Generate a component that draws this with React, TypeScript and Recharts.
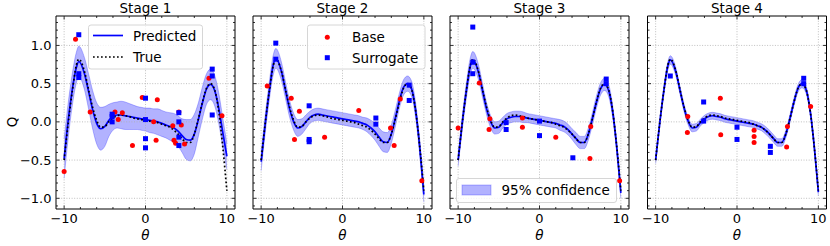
import React from "react";
import {
  ComposedChart,
  Line,
  Area,
  Scatter,
  XAxis,
  YAxis,
  ReferenceLine,
  ReferenceArea,
} from "recharts";

// ---------- data ----------
const X_GRID = [-10, -9.5, -9, -8.5, -8.2, -7.5, -7, -6.5, -6, -5.5, -5, -4.5, -4, -3.5, -3, -2.5, -2, -1.5, -1, -0.5, 0, 0.5, 1, 1.5, 2, 2.5, 3, 3.5, 4, 4.5, 5, 5.5, 6, 6.5, 7, 7.5, 8, 8.5, 9, 9.5, 10];

const TRUE_Q = [-0.5, -0.02, 0.4, 0.74, 0.82, 0.66, 0.42, 0.19, 0.02, -0.07, -0.06, 0.0, 0.05, 0.08, 0.09, 0.08, 0.07, 0.05, 0.04, 0.03, 0.02, 0.01, 0.0, -0.01, -0.03, -0.05, -0.07, -0.11, -0.16, -0.22, -0.27, -0.27, -0.16, 0.04, 0.26, 0.44, 0.5, 0.42, 0.14, -0.33, -0.9];

const P1_MEAN = [-0.48, 0.02, 0.42, 0.71, 0.79, 0.63, 0.4, 0.16, -0.02, -0.09, -0.06, 0.02, 0.07, 0.09, 0.09, 0.08, 0.07, 0.06, 0.05, 0.04, 0.03, 0.02, 0.01, 0.0, -0.02, -0.04, -0.06, -0.08, -0.12, -0.18, -0.23, -0.24, -0.16, 0.03, 0.25, 0.43, 0.49, 0.41, 0.18, -0.14, -0.45];
const P1_HALF = [0.26, 0.23, 0.21, 0.2, 0.2, 0.21, 0.23, 0.25, 0.27, 0.28, 0.26, 0.21, 0.18, 0.17, 0.18, 0.18, 0.17, 0.16, 0.15, 0.15, 0.15, 0.16, 0.16, 0.17, 0.17, 0.17, 0.18, 0.19, 0.2, 0.22, 0.26, 0.27, 0.26, 0.22, 0.21, 0.2, 0.2, 0.2, 0.2, 0.19, 0.17];

const P2_MEAN = [-0.52, -0.03, 0.4, 0.75, 0.83, 0.66, 0.41, 0.17, 0.0, -0.08, -0.06, 0.0, 0.06, 0.09, 0.1, 0.09, 0.08, 0.07, 0.06, 0.05, 0.04, 0.03, 0.02, 0.01, 0.0, -0.02, -0.04, -0.08, -0.13, -0.2, -0.26, -0.27, -0.16, 0.05, 0.28, 0.45, 0.5, 0.43, 0.14, -0.34, -0.95];
const P2_HALF = [0.12, 0.12, 0.12, 0.13, 0.13, 0.12, 0.11, 0.11, 0.11, 0.11, 0.1, 0.09, 0.08, 0.08, 0.08, 0.08, 0.08, 0.08, 0.08, 0.08, 0.08, 0.08, 0.08, 0.08, 0.08, 0.08, 0.09, 0.1, 0.11, 0.12, 0.13, 0.13, 0.12, 0.11, 0.1, 0.1, 0.1, 0.1, 0.1, 0.1, 0.1];

const P3_MEAN = [-0.5, -0.02, 0.4, 0.73, 0.81, 0.65, 0.41, 0.17, 0.0, -0.08, -0.07, -0.01, 0.04, 0.06, 0.07, 0.07, 0.06, 0.05, 0.04, 0.03, 0.02, 0.01, 0.0, -0.01, -0.02, -0.04, -0.06, -0.1, -0.16, -0.22, -0.27, -0.27, -0.16, 0.04, 0.26, 0.43, 0.49, 0.41, 0.13, -0.34, -0.93];
const P3_HALF = [0.08, 0.09, 0.1, 0.11, 0.11, 0.1, 0.09, 0.08, 0.08, 0.08, 0.08, 0.07, 0.07, 0.07, 0.07, 0.07, 0.07, 0.06, 0.06, 0.06, 0.06, 0.06, 0.06, 0.06, 0.06, 0.07, 0.07, 0.07, 0.07, 0.08, 0.08, 0.08, 0.08, 0.08, 0.08, 0.08, 0.08, 0.08, 0.08, 0.07, 0.07];

const P4_MEAN = [-0.5, -0.02, 0.4, 0.73, 0.81, 0.65, 0.41, 0.18, 0.01, -0.08, -0.07, -0.01, 0.04, 0.07, 0.08, 0.07, 0.06, 0.04, 0.03, 0.02, 0.01, 0.0, -0.01, -0.02, -0.03, -0.05, -0.07, -0.11, -0.16, -0.22, -0.27, -0.27, -0.16, 0.04, 0.26, 0.44, 0.5, 0.42, 0.14, -0.33, -0.92];
const P4_HALF = [0.045, 0.05, 0.055, 0.055, 0.055, 0.055, 0.05, 0.05, 0.05, 0.05, 0.05, 0.045, 0.045, 0.045, 0.045, 0.045, 0.045, 0.045, 0.045, 0.045, 0.045, 0.045, 0.045, 0.045, 0.045, 0.045, 0.045, 0.05, 0.05, 0.05, 0.05, 0.05, 0.05, 0.05, 0.05, 0.05, 0.055, 0.05, 0.05, 0.05, 0.045];

const BASE_1 = [[-10, -0.65], [-8.6, 1.08], [-6.8, 0.13], [-3.75, 0.13], [-3.35, 0.03], [-2.85, 0.12], [-1.6, -0.31], [-0.4, 0.32], [1.0, 0.0], [1.3, -0.24], [1.45, 0.29], [3.35, -0.05], [3.5, -0.24], [3.7, -0.28], [4.1, 0.13], [4.4, -0.04], [4.8, -0.29], [7.8, 0.57], [9.4, 0.08]];
const SURR_1 = [[-8.2, 1.14], [-8.2, 0.63], [-8.2, 0.58], [-4.1, 0.1], [-4.1, 0.07], [-4.1, 0.0], [0, 0.31], [0, 0.03], [0, -0.22], [0, -0.34], [4.1, 0.12], [4.1, 0.0], [4.1, -0.2], [4.1, -0.31], [8.2, 0.69], [8.2, 0.6], [8.2, 0.09]];

const BASE_2 = [[-9.25, 0.47], [-6.3, 0.31], [-5.9, -0.23], [-5.3, 0.14], [-2.2, -0.2], [2.0, 0.15], [5.9, -0.08], [6.35, -0.31], [7.1, 0.3], [9.75, -0.77]];
const SURR_2 = [[-8.2, 1.03], [-8.2, 0.82], [-4.1, 0.21], [-4.1, -0.23], [-4.1, -0.26], [4.1, 0.05], [4.1, -0.03], [8.2, 0.48], [8.2, 0.28]];

const BASE_3 = [[-10, -0.08], [-7.4, 0.51], [-6.1, 0.04], [-6.2, -0.1], [-2.1, 0.05], [-2.1, -0.07], [2.0, -0.2], [6.2, -0.48], [6.3, -0.06], [9.85, -0.77]];
const SURR_3 = [[-8.2, 1.24], [-8.2, 0.78], [-8.2, 0.63], [-4.1, -0.01], [-4.1, -0.1], [0, 0.01], [0, -0.18], [4.1, -0.47], [8.2, 0.56], [8.2, 0.5]];

const BASE_4 = [[-6.05, 0.07], [-6.1, -0.14], [-2.05, 0.31], [-2.0, -0.17], [2.1, -0.11], [2.1, -0.19], [2.1, -0.27], [6.2, -0.06], [6.1, -0.33], [9.05, 0.2]];
const SURR_4 = [[-8.2, 0.6], [-4.1, 0.26], [-4.1, 0.01], [0, -0.07], [0, -0.23], [4.1, -0.32], [4.1, -0.4], [8.2, 0.57], [8.2, 0.5]];

const STAGE_TITLES = ["Stage 1", "Stage 2", "Stage 3", "Stage 4"];
const X_TICKS = [-10, -8, -6, -4, -2, 0, 2, 4, 6, 8, 10];
const Y_TICKS = [-1.1, -1.0, -0.9, -0.8, -0.7, -0.6, -0.5, -0.4, -0.3, -0.2, -0.1, 0, 0.1, 0.2, 0.3, 0.4, 0.5, 0.6, 0.7, 0.8, 0.9, 1.0, 1.1, 1.2, 1.3];
const X_GRID_LINES = [-10, 0, 10];
const Y_GRID_LINES = [-1, -0.5, 0, 0.5, 1];

// ---------- layout ----------
const FONT = "'DejaVu Sans', sans-serif";
const W = 830;
const H = 246;
const TOP = 16;
const PH = 193;
const PW = 179;
const X_DOMAIN = [-11, 11];
const Y_DOMAIN = [-1.14, 1.385];
const BLUE = "#0000ff";
const RED = "#ff0000";
const TICK_FS = 13;
const TEXT_FS = 13.5;

const PANELS = [
  { left: 0, width: 240, marginLeft: 16, yW: 40, marginRight: 5, mean: P1_MEAN, half: P1_HALF, base: BASE_1, surr: SURR_1, labels: true },
  { left: 240, width: 197, marginLeft: 12, yW: 1, marginRight: 5, mean: P2_MEAN, half: P2_HALF, base: BASE_2, surr: SURR_2, labels: false },
  { left: 437, width: 197, marginLeft: 12, yW: 1, marginRight: 5, mean: P3_MEAN, half: P3_HALF, base: BASE_3, surr: SURR_3, labels: false },
  { left: 634, width: 196, marginLeft: 12.5, yW: 1, marginRight: 3.5, mean: P4_MEAN, half: P4_HALF, base: BASE_4, surr: SURR_4, labels: false },
];

const fmtNum = (v: number, digits: number) => {
  const s = Math.abs(v).toFixed(digits);
  return v < -1e-9 ? "\u2212" + s : s;
};

const XTick = (props: any) => {
  const { x, y, payload } = props;
  const v = payload.value;
  const major = Math.abs(v) % 10 === 0;
  const len = major ? 3.5 : 2;
  return (
    <g>
      <line x1={x} x2={x} y1={y} y2={y - len} stroke="#000" strokeWidth={0.8} />
      <line x1={x} x2={x} y1={y - PH} y2={y - PH + len} stroke="#000" strokeWidth={0.8} />
      {major && (
        <text x={x} y={y + 13.5} textAnchor="middle" fontSize={TICK_FS} fontFamily={FONT} fill="#000">
          {fmtNum(v, 0)}
        </text>
      )}
    </g>
  );
};

const makeYTick = (showLabels: boolean) => (props: any) => {
  const { x, y, payload } = props;
  const v = payload.value;
  const major = Math.abs(v * 2 - Math.round(v * 2)) < 1e-6;
  const len = major ? 3.5 : 2;
  return (
    <g>
      <line x1={x} x2={x + len} y1={y} y2={y} stroke="#000" strokeWidth={0.8} />
      <line x1={x + PW} x2={x + PW - len} y1={y} y2={y} stroke="#000" strokeWidth={0.8} />
      {showLabels && major && (
        <text x={x - 4.5} y={y + 4.6} textAnchor="end" fontSize={TICK_FS} fontFamily={FONT} fill="#000">
          {fmtNum(v, 1)}
        </text>
      )}
    </g>
  );
};

const circleShape = (p: any) => <circle cx={p.cx} cy={p.cy} r={2.5} fill={RED} />;
const squareShape = (p: any) => <rect x={p.cx - 2.5} y={p.cy - 2.5} width={5} height={5} fill={BLUE} />;

function Panel({ cfg }: { cfg: any }) {
  const rows = X_GRID.map((x, i) => ({
    x,
    truth: TRUE_Q[i],
    mean: cfg.mean[i],
    band: [cfg.mean[i] - cfg.half[i], cfg.mean[i] + cfg.half[i]],
  }));
  const base = cfg.base.map((p: number[]) => ({ x: p[0], y: p[1] }));
  const surr = cfg.surr.map((p: number[]) => ({ x: p[0], y: p[1] }));
  return (
    <div style={{ position: "absolute", left: cfg.left, top: 0 }}>
      <ComposedChart
        width={cfg.width}
        height={H}
        data={rows}
        margin={{ top: TOP, right: cfg.marginRight, bottom: 0, left: cfg.marginLeft }}
      >
        <XAxis
          dataKey="x"
          type="number"
          domain={X_DOMAIN}
          ticks={X_TICKS}
          interval={0}
          height={37}
          axisLine={false}
          tickLine={false}
          tickSize={0}
          tickMargin={0}
          tick={(p: any) => <XTick {...p} />}
          allowDataOverflow
        />
        <YAxis
          type="number"
          domain={Y_DOMAIN}
          ticks={Y_TICKS}
          interval={0}
          width={cfg.yW}
          axisLine={false}
          tickLine={false}
          tickSize={0}
          tickMargin={0}
          tick={makeYTick(cfg.labels)}
          allowDataOverflow
        />
        {X_GRID_LINES.map((g) => (
          <ReferenceLine key={"gx" + g} x={g} stroke="#b0b0b0" strokeWidth={0.8} strokeDasharray="1 1.6" />
        ))}
        {Y_GRID_LINES.map((g) => (
          <ReferenceLine key={"gy" + g} y={g} stroke="#b0b0b0" strokeWidth={0.8} strokeDasharray="1 1.6" />
        ))}
        <Area
          dataKey="band"
          type="monotone"
          fill={BLUE}
          fillOpacity={0.3}
          stroke={BLUE}
          strokeOpacity={0.25}
          strokeWidth={1}
          isAnimationActive={false}
        />
        <Line dataKey="mean" type="monotone" stroke={BLUE} strokeWidth={1.7} dot={false} isAnimationActive={false} />
        <Line
          dataKey="truth"
          type="monotone"
          stroke="#000"
          strokeWidth={1.7}
          strokeDasharray="1.7 2.3"
          dot={false}
          isAnimationActive={false}
        />
        <Scatter data={base} dataKey="y" shape={circleShape} isAnimationActive={false} />
        <Scatter data={surr} dataKey="y" shape={squareShape} isAnimationActive={false} />
        <ReferenceArea
          x1={X_DOMAIN[0]}
          x2={X_DOMAIN[1]}
          y1={Y_DOMAIN[0]}
          y2={Y_DOMAIN[1]}
          fill="none"
          fillOpacity={0}
          stroke="#000"
          strokeWidth={1}
          ifOverflow="visible"
        />
      </ComposedChart>
    </div>
  );
}

export default function App() {
  const plotLefts = PANELS.map((p) => p.left + p.marginLeft + p.yW);
  return (
    <div style={{ position: "absolute", left: 0, top: 0, width: W, height: H, background: "#fff" }}>
      {PANELS.map((p, i) => (
        <Panel key={i} cfg={p} />
      ))}
      <svg
        width={W}
        height={H}
        style={{ position: "absolute", left: 0, top: 0, pointerEvents: "none" }}
        fontFamily={FONT}
      >
        {STAGE_TITLES.map((t, i) => (
          <text key={t} x={plotLefts[i] + PW / 2} y={12.5} textAnchor="middle" fontSize={TEXT_FS} fill="#000">
            {t}
          </text>
        ))}
        {plotLefts.map((l, i) => (
          <text key={"th" + i} x={l + PW / 2} y={240} textAnchor="middle" fontSize={TEXT_FS} fontStyle="italic" fill="#000">
            θ
          </text>
        ))}
        <text x={12} y={122} textAnchor="middle" fontSize={TEXT_FS} fill="#000" transform="rotate(-90 12 122)" dy={4.5}>
          Q
        </text>

        {/* legend 1 */}
        <rect x={88.5} y={25} width={114} height={44} rx={2.5} fill="#fff" fillOpacity={0.8} stroke="#cccccc" strokeWidth={0.8} />
        <line x1={93} x2={123} y1={35.5} y2={35.5} stroke={BLUE} strokeWidth={1.7} />
        <text x={133} y={40.5} fontSize={TEXT_FS} fill="#000">Predicted</text>
        <line x1={93} x2={123} y1={57} y2={57} stroke="#000" strokeWidth={1.7} strokeDasharray="1.7 2.3" />
        <text x={133} y={62} fontSize={TEXT_FS} fill="#000">True</text>

        {/* legend 2 */}
        <rect x={307.5} y={25} width={117.5} height={44} rx={2.5} fill="#fff" fillOpacity={0.8} stroke="#cccccc" strokeWidth={0.8} />
        <circle cx={327.3} cy={37.3} r={2.5} fill={RED} />
        <text x={352} y={42} fontSize={TEXT_FS} fill="#000">Base</text>
        <rect x={324.8} y={55.2} width={5} height={5} fill={BLUE} />
        <text x={352} y={62.5} fontSize={TEXT_FS} fill="#000">Surrogate</text>

        {/* legend 3 */}
        <rect x={456.5} y={178.5} width={160} height={24} rx={2.5} fill="#fff" fillOpacity={0.8} stroke="#cccccc" strokeWidth={0.8} />
        <rect x={462} y={185} width={29} height={10} fill={BLUE} fillOpacity={0.3} stroke={BLUE} strokeOpacity={0.25} />
        <text x={501.5} y={195} fontSize={TEXT_FS} fill="#000">95% confidence</text>
      </svg>
    </div>
  );
}
